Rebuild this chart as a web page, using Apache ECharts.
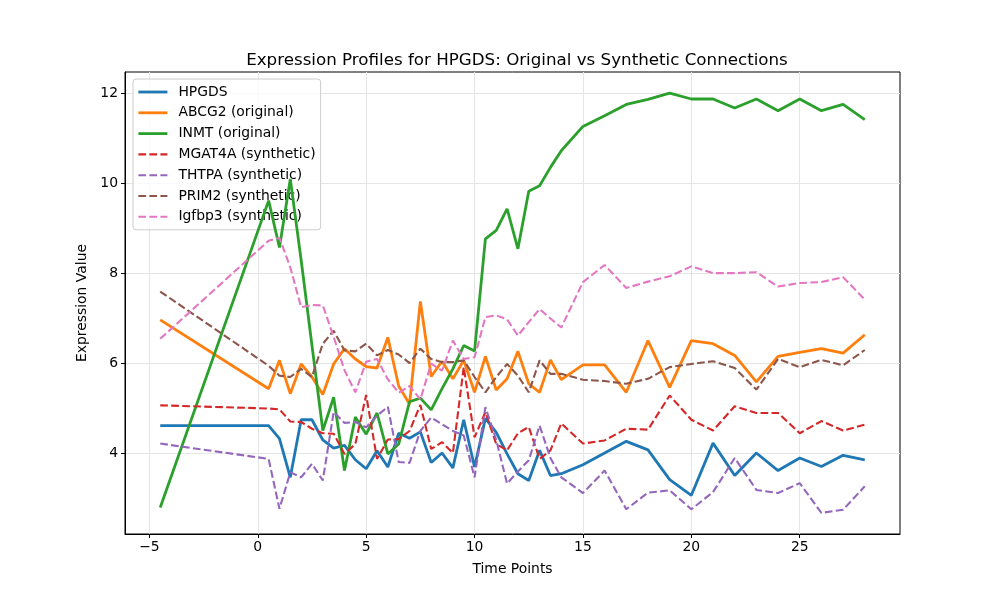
<!DOCTYPE html>
<html>
<head>
<meta charset="utf-8">
<script src="https://cdn.jsdelivr.net/npm/echarts@6/dist/echarts.min.js"></script>
<style>
html, body { margin: 0; padding: 0; background: #fff; }
#chart { width: 1000px; height: 600px; }
</style>
</head>
<body>
<div id="chart"></div>
<script>
let timePoints = [-4.5, 0.5, 1, 1.5, 2, 2.5, 3, 3.5, 4, 4.5, 5, 5.5, 6, 6.5, 7, 7.5, 8, 8.5, 9, 9.5, 10,
	10.5, 11, 11.5, 12, 12.5, 13, 13.5, 14, 15, 16, 17, 18, 19, 20, 21, 22, 23, 24, 25, 26, 27, 28];

let hpgds = [4.62, 4.62, 4.33, 3.47, 4.75, 4.75, 4.30, 4.12, 4.18, 3.86, 3.66, 4.06, 3.70, 4.45, 4.34, 4.48, 3.80, 4.01, 3.68, 4.75, 3.70,
	4.78, 4.47, 3.99, 3.55, 3.40, 4.07, 3.51, 3.55, 3.75, 4.01, 4.27, 4.08, 3.42, 3.07, 4.23, 3.51, 4.01, 3.62, 3.90, 3.71, 3.96, 3.86];
let abcg2 = [6.97, 5.44, 6.07, 5.33, 5.99, 5.70, 5.31, 5.99, 6.33, 6.10, 5.93, 5.90, 6.58, 5.50, 5.10, 7.38, 5.71, 6.05, 5.66, 6.07, 5.36,
	6.16, 5.41, 5.66, 6.27, 5.55, 5.36, 6.08, 5.64, 5.97, 5.97, 5.36, 6.51, 5.47, 6.51, 6.44, 6.18, 5.59, 6.16, 6.25, 6.33, 6.23, 6.64];
let inmt = [2.80, 9.62, 8.58, 10.10, 8.30, 6.40, 4.51, 5.25, 3.62, 4.81, 4.43, 4.90, 3.99, 4.21, 5.15, 5.23, 4.97, 5.44, 5.88, 6.40, 6.28,
	8.77, 8.96, 9.44, 8.55, 9.83, 9.95, 10.36, 10.73, 11.27, 11.51, 11.76, 11.87, 12.01, 11.88, 11.88, 11.68, 11.88, 11.62, 11.88, 11.62, 11.76, 11.42];
let mgat4a = [5.07, 5.00, 4.98, 4.71, 4.70, 4.55, 4.45, 4.44, 3.99, 4.21, 5.30, 3.88, 4.31, 4.32, 4.50, 5.08, 4.10, 4.25, 4.01, 5.92, 4.36,
	4.92, 4.21, 4.07, 4.45, 4.59, 3.88, 4.07, 4.67, 4.22, 4.29, 4.55, 4.53, 5.29, 4.75, 4.51, 5.05, 4.90, 4.90, 4.45, 4.72, 4.51, 4.64];
let thtpa = [4.22, 3.88, 2.77, 3.58, 3.47, 3.77, 3.40, 4.92, 4.68, 4.70, 4.58, 4.84, 5.04, 3.81, 3.79, 4.50, 4.80, 4.65, 4.50, 4.40, 3.47,
	5.03, 4.30, 3.33, 3.60, 3.85, 4.62, 3.90, 3.47, 3.12, 3.62, 2.76, 3.13, 3.18, 2.76, 3.14, 3.90, 3.19, 3.12, 3.34, 2.68, 2.75, 3.27];
let prim2 = [7.60, 5.95, 5.73, 5.70, 5.88, 5.70, 6.44, 6.73, 6.29, 6.27, 6.44, 6.18, 6.30, 6.20, 6.01, 6.33, 6.10, 6.03, 6.03, 6.07, 5.70,
	5.36, 5.70, 5.99, 5.73, 5.36, 6.07, 5.77, 5.77, 5.64, 5.61, 5.55, 5.66, 5.92, 5.99, 6.05, 5.90, 5.42, 6.10, 5.92, 6.08, 5.96, 6.30];
let igfbp3 = [6.55, 8.73, 8.79, 8.14, 7.25, 7.30, 7.29, 6.59, 5.85, 5.36, 6.04, 6.10, 5.65, 5.35, 5.50, 5.20, 6.00, 5.84, 6.51, 6.10, 6.14,
	7.03, 7.07, 6.98, 6.62, 6.92, 7.21, 7.00, 6.80, 7.81, 8.19, 7.68, 7.82, 7.94, 8.16, 8.01, 8.01, 8.03, 7.71, 7.79, 7.81, 7.92, 7.42];

let xTicks = [-5, 0, 5, 10, 15, 20, 25];
let yTicks = [4, 6, 8, 10, 12];

let seriesNames = ['HPGDS', 'ABCG2 (original)', 'INMT (original)', 'MGAT4A (synthetic)', 'THTPA (synthetic)', 'PRIM2 (synthetic)', 'Igfbp3 (synthetic)'];
let seriesValues = [hpgds, abcg2, inmt, mgat4a, thtpa, prim2, igfbp3];
let seriesColors = ['#1f77b4', '#ff7f0e', '#2ca02c', '#d62728', '#9467bd', '#8c564b', '#e377c2'];

let myChart = echarts.init(document.getElementById('chart'));

// first three are solid, the synthetic ones dashed
let lineStyleFor = i => {
	let dashed = i >= 3;
	return {
		color: seriesColors[i],
		width: dashed ? 2.1 : 2.8,
		type: dashed ? [7.7, 3.3] : 'solid'
	};
};

let series = seriesNames.map((name, i) => ({
	name: name,
	type: 'line',
	symbol: 'none',
	showSymbol: false,
	data: timePoints.map((t, k) => [t, seriesValues[i][k]]),
	lineStyle: lineStyleFor(i),
	itemStyle: { color: seriesColors[i] },
	z: 2 + i
}));

let legendData = seriesNames.map((name, i) => ({ name: name, lineStyle: lineStyleFor(i) }));

let tickLabel = v => String(v).replace('-', '\u2212');

option = {
	animation: false,
	backgroundColor: '#fff',
	textStyle: { fontFamily: 'DejaVu Sans' },
	title: {
		text: 'Expression Profiles for HPGDS: Original vs Synthetic Connections',
		left: 512,
		top: 47,
		textAlign: 'center',
		textStyle: { fontFamily: 'DejaVu Sans', fontSize: 16.7, fontWeight: 'normal', color: '#000' }
	},
	grid: {
		left: 125,
		right: 100,
		top: 72,
		bottom: 66,
		show: true,
		borderColor: '#000',
		borderWidth: 1,
		backgroundColor: 'transparent'
	},
	legend: {
		orient: 'vertical',
		left: 133,
		top: 79,
		padding: [6, 5, 6, 4],
		itemWidth: 29,
		itemHeight: 14,
		itemGap: 6.8,
		backgroundColor: 'rgba(255,255,255,0.8)',
		borderColor: '#cccccc',
		borderWidth: 1,
		borderRadius: 3,
		itemStyle: { opacity: 0, borderWidth: 0 },
		textStyle: { fontFamily: 'DejaVu Sans', fontSize: 13.9, color: '#000', padding: [0, 0, 0, 6] },
		data: legendData
	},
	xAxis: {
		type: 'value',
		min: -6.125,
		max: 29.625,
		name: 'Time Points',
		nameLocation: 'middle',
		nameGap: 28,
		nameTextStyle: { fontFamily: 'DejaVu Sans', fontSize: 13.9, color: '#000' },
		axisLine: { show: true, onZero: false, lineStyle: { color: '#000', width: 1 } },
		axisTick: { show: true, inside: false, length: 4, lineStyle: { color: '#000' }, customValues: xTicks },
		axisLabel: { fontFamily: 'DejaVu Sans', fontSize: 13.9, color: '#000', margin: 6, customValues: xTicks, formatter: tickLabel },
		splitLine: { show: true, lineStyle: { color: '#e5e5e5', width: 1 } }
	},
	yAxis: {
		type: 'value',
		min: 2.21,
		max: 12.48,
		name: 'Expression Value',
		nameLocation: 'middle',
		nameGap: 34,
		nameTextStyle: { fontFamily: 'DejaVu Sans', fontSize: 13.9, color: '#000' },
		axisLine: { show: true, onZero: false, lineStyle: { color: '#000', width: 1 } },
		axisTick: { show: true, inside: false, length: 4, lineStyle: { color: '#000' }, customValues: yTicks },
		axisLabel: { fontFamily: 'DejaVu Sans', fontSize: 13.9, color: '#000', margin: 7, customValues: yTicks, formatter: tickLabel },
		splitLine: { show: true, lineStyle: { color: '#e5e5e5', width: 1 } }
	},
	series: series
};

myChart.setOption(option);
</script>
</body>
</html>
